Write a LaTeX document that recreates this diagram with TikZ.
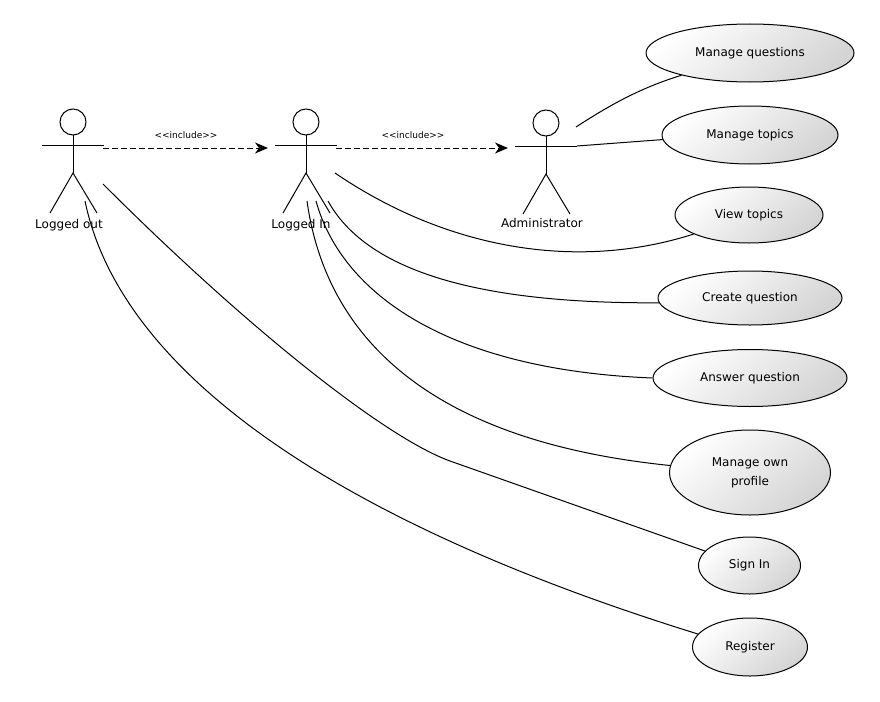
\documentclass[tikz,border=0pt]{standalone}
\usepackage{fontspec}
\setmainfont{DejaVu Sans}
\usetikzlibrary{arrows.meta,shapes.geometric}
\begin{document}
\begin{tikzpicture}[x=1pt,y=-1pt,line width=1pt,
  usecase/.style={ellipse, draw, line width=1pt, inner sep=0pt, top color=white, bottom color=black!17, shading angle=40, font=\fontsize{12}{19}\selectfont, align=center},
  actorlabel/.style={font=\fontsize{12}{14}\selectfont, inner sep=0pt, anchor=base},
  inclabel/.style={font=\fontsize{9}{11}\selectfont, inner sep=0pt},
  incl/.style={line width=1pt, dash pattern=on 6pt off 3pt, -{Stealth[length=13pt,width=11pt,inset=4pt]}},
  assoc/.style={line width=1pt},
  actor/.pic={
    \draw[line width=1pt] (0,0) circle[radius=13pt];
    \draw[line width=1pt] (-31,23) -- (31,23);
    \draw[line width=1pt] (0,13) -- (0,51);
    \draw[line width=1pt] (-23,91) -- (0,51) -- (24,91);
  }]
\useasboundingbox (0,0) rectangle (880,701);

% actors
\pic (lo) at (73,122) {actor};
\pic (li) at (306,122) {actor};
\pic (ad) at (546,123) {actor};
\node[actorlabel] (lolab) at (69,228) {Logged out};
\node[actorlabel] (lilab) at (301,228) {Logged In};
\node[actorlabel] (adlab) at (542,227.5) {Administrator};

% use cases
\node[usecase, minimum width=208pt, minimum height=58pt] (mq) at (750,53) {Manage questions};
\node[usecase, minimum width=176pt, minimum height=58pt] (mt) at (750,135) {Manage topics};
\node[usecase, minimum width=148pt, minimum height=56pt] (vt) at (749,215) {View topics};
\node[usecase, minimum width=184pt, minimum height=54pt] (cq) at (750,298) {Create question};
\node[usecase, minimum width=194pt, minimum height=57pt] (aq) at (750,378) {Answer question};
\node[usecase, minimum width=161pt, minimum height=85pt] (mp) at (750,472.5) {Manage own\\profile};
\node[usecase, minimum width=102pt, minimum height=57pt] (si) at (749.5,565.5) {Sign In};
\node[usecase, minimum width=115pt, minimum height=58pt] (rg) at (750,647) {Register};

% attachment points
\coordinate (lo-out) at (103,148);
\coordinate (li-in) at (268,148);
\coordinate (li-out) at (336,148);
\coordinate (ad-in) at (508,148);
\coordinate (ad-mq) at (576,127);
\coordinate (ad-mt) at (577,146);
\coordinate (li-vt) at (335,173);
\coordinate (li-cq) at (328,201);
\coordinate (li-aq) at (316,201);
\coordinate (li-mp) at (307,201);
\coordinate (lo-si) at (103,184);
\coordinate (lo-rg) at (85,201);
\coordinate (si-mid) at (450,461);

% include relations
\draw[incl] (lo-out) -- (li-in);
\draw[incl] (li-out) -- (ad-in);
\node[inclabel] (inc1) at (186,135) {<{}<include>{}>};
\node[inclabel] (inc2) at (413,135.5) {<{}<include>{}>};

% associations
\draw[assoc] (ad-mq) .. controls (610,105) and (640,88) .. (mq.198.7);
\draw[assoc] (ad-mt) -- (mt.183.7);
\draw[assoc] (li-vt) .. controls (445,248) and (575,272) .. (vt.199);
\draw[assoc] (li-cq) .. controls (365,268) and (470,304) .. (cq.183.8);
\draw[assoc] (li-aq) .. controls (342,295) and (450,370) .. (aq.180);
\draw[assoc] (li-mp) .. controls (325,330) and (420,440) .. (mp.175);
\draw[assoc] (lo-si) .. controls (246,327) and (384,437) .. (si-mid) -- (si.162.5);
\draw[assoc] (lo-rg) .. controls (120,370) and (330,520) .. (rg.166.4);
\end{tikzpicture}
\end{document}
